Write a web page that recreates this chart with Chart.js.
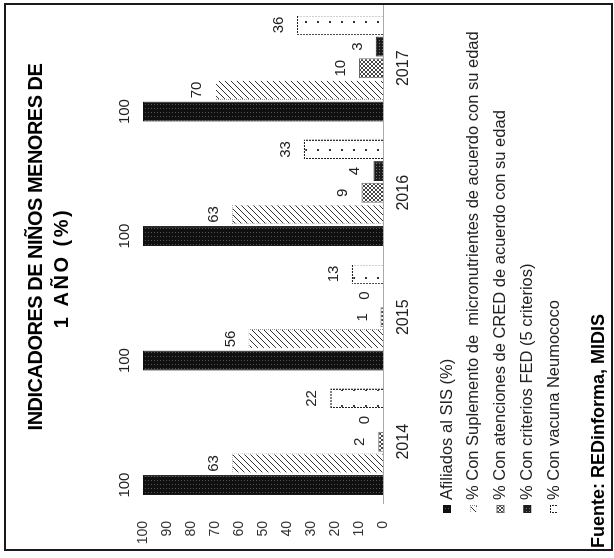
<!DOCTYPE html>
<html>
<head>
<meta charset="utf-8">
<script src="https://cdn.jsdelivr.net/npm/chart.js@4.4.1/dist/chart.umd.min.js"></script>
<style>
  html, body { margin: 0; padding: 0; background: #fff; overflow: hidden; }
  body { width: 614px; height: 558px; position: relative; }
  #frame { position: absolute; left: 4px; top: 3px; width: 609px; height: 548px; border: 2px solid #1a1a1a; box-sizing: border-box; }
  /* the chart is printed sideways, so draw it upright and turn it */
  #wrap { position: absolute; left: 28px; top: -28px; width: 558px; height: 614px; transform: rotate(-90deg); }
</style>
</head>
<body>
<div id="frame"></div>
<div id="wrap"><canvas id="chart" width="558" height="614"></canvas></div>
<script>
// data
const years = ['2014', '2015', '2016', '2017'];
const afiliadosSIS = [100, 100, 100, 100];
const suplemento = [63, 56, 63, 70];
const cred = [2, 1, 9, 10];
const fed = [0, 0, 4, 3];
const neumococo = [22, 13, 33, 36];
const seriesNames = [
  'Afiliados al SIS (%)',
  '% Con Suplemento de  micronutrientes de acuerdo con su edad',
  '% Con atenciones de CRED de acuerdo con su edad',
  '% Con criterios FED (5 criterios)',
  '% Con vacuna Neumococo'
];
const titleLines = ['INDICADORES DE NIÑOS MENORES DE', '1 AÑO (%)'];
const sourceText = 'Fuente: REDinforma, MIDIS';

const FONT = '"Liberation Sans", Arial, sans-serif';

function makePattern(w, h, draw) {
  const c = document.createElement('canvas');
  c.width = w; c.height = h;
  const g = c.getContext('2d');
  draw(g, w, h);
  return c.getContext('2d').createPattern(c, 'repeat');
}

const ctx = document.getElementById('chart').getContext('2d');

const pSIS = makePattern(4, 3, (g, w, h) => {
  g.fillStyle = '#101010'; g.fillRect(0, 0, w, h);
  g.fillStyle = '#555'; g.fillRect(1, 1, 1, 1);
});
const pSupl = makePattern(6, 6, (g, w, h) => {
  g.fillStyle = '#fff'; g.fillRect(0, 0, w, h);
  g.strokeStyle = '#333'; g.lineWidth = 1;
  g.beginPath();
  g.moveTo(0, h); g.lineTo(w, 0);
  g.moveTo(-1, 1); g.lineTo(1, -1);
  g.moveTo(w - 1, h + 1); g.lineTo(w + 1, h - 1);
  g.stroke();
});
const pCred = makePattern(4, 4, (g, w, h) => {
  g.fillStyle = '#fff'; g.fillRect(0, 0, w, h);
  g.strokeStyle = '#444'; g.lineWidth = 1;
  g.beginPath();
  g.moveTo(0, 0); g.lineTo(w, h);
  g.moveTo(0, h); g.lineTo(w, 0);
  g.stroke();
});
const pFed = makePattern(3, 3, (g, w, h) => {
  g.fillStyle = '#1c1c1c'; g.fillRect(0, 0, w, h);
  g.fillStyle = '#777'; g.fillRect(1, 1, 1, 1);
});
const pNeumo = makePattern(16, 12, (g, w, h) => {
  g.fillStyle = '#fff'; g.fillRect(0, 0, w, h);
  g.fillStyle = '#333'; g.fillRect(7, 5, 2, 2);
});
const pDots = makePattern(3, 3, (g) => {
  g.fillStyle = '#222'; g.fillRect(0, 0, 2, 2);
});
const pDotsLight = makePattern(2, 2, (g) => {
  g.fillStyle = '#888'; g.fillRect(0, 0, 1, 1);
});

const fills = [pSIS, pSupl, pCred, pFed, pNeumo];
const borders = ['#101010', pDotsLight, '#666', '#1c1c1c', pDots];
const borderWidths = [1, 1, 1, 1, 1.5];

// values over the bars, title, legend and source
const extras = {
  id: 'extras',
  afterDatasetsDraw(chart) {
    const c = chart.ctx;
    c.save();
    c.font = '15px ' + FONT;
    c.fillStyle = '#222';
    c.textAlign = 'center';
    c.textBaseline = 'alphabetic';
    chart.data.datasets.forEach((ds, i) => {
      chart.getDatasetMeta(i).data.forEach((bar, j) => {
        c.fillText(String(ds.data[j]), bar.x, bar.y - 14);
      });
    });
    c.restore();
  },
  afterDraw(chart) {
    const c = chart.ctx;
    c.save();
    c.fillStyle = '#000';
    c.textAlign = 'center';
    c.textBaseline = 'alphabetic';
    c.font = 'bold 20px ' + FONT;
    c.letterSpacing = '-0.5px';
    c.fillText(titleLines[0], 311, 42);
    c.letterSpacing = '2.5px';
    c.fillText(titleLines[1], 290, 68);
    c.letterSpacing = '0px';

    c.textAlign = 'left';
    c.textBaseline = 'middle';
    c.font = '16.5px ' + FONT;
    seriesNames.forEach((name, i) => {
      const y = 447 + i * 26.75;
      c.fillStyle = borders[i];
      c.fillRect(45, y - 4, 8, 8);
      c.fillStyle = fills[i];
      c.fillRect(46, y - 3, 6, 6);
      c.fillStyle = '#222';
      c.fillText(name, 58, y);
    });

    c.font = 'bold 18px ' + FONT;
    c.fillStyle = '#000';
    c.textBaseline = 'alphabetic';
    c.fillText(sourceText, 10, 604);
    c.restore();
  }
};

new Chart(ctx, {
  type: 'bar',
  data: {
    labels: years,
    datasets: [afiliadosSIS, suplemento, cred, fed, neumococo].map((vals, i) => ({
      label: seriesNames[i],
      data: vals,
      backgroundColor: fills[i],
      borderColor: borders[i],
      borderWidth: borderWidths[i]
    }))
  },
  options: {
    responsive: false,
    animation: false,
    events: [],
    layout: { padding: { left: 14, right: 6, top: 143, bottom: 191 } },
    datasets: { bar: { categoryPercentage: 0.87, barPercentage: 0.92 } },
    plugins: {
      legend: { display: false },
      title: { display: false },
      tooltip: { enabled: false }
    },
    scales: {
      x: {
        grid: { display: false, drawTicks: false },
        border: { display: true, color: '#aaa', dash: [1, 2], width: 1 },
        ticks: { color: '#222', font: { family: FONT, size: 16 }, padding: 11 },
        afterFit: s => { s.height = 40; }
      },
      y: {
        min: 0,
        max: 100,
        grid: { display: false, drawTicks: false },
        border: { display: false },
        ticks: { stepSize: 10, color: '#333', font: { family: FONT, size: 14 }, padding: 17 },
        afterFit: s => { s.width = 40; }
      }
    }
  },
  plugins: [extras]
});
</script>
</body>
</html>
